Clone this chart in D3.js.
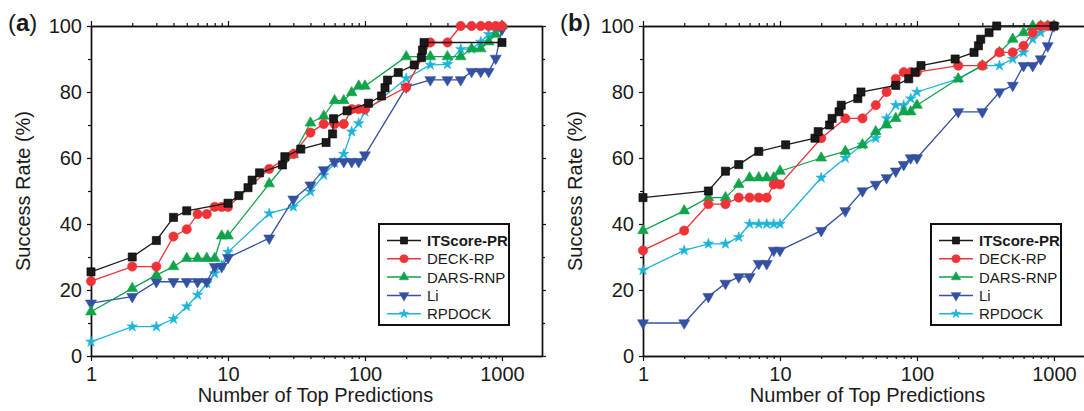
<!DOCTYPE html>
<html><head><meta charset="utf-8">
<script src="https://cdn.jsdelivr.net/npm/d3@7"></script>
<style>body{margin:0;background:#fff} svg{display:block}</style>
</head><body>
<svg id="chart" width="1084" height="411"></svg>
<script>
// ---------- data ----------
const seriesNames = ["ITScore-PR", "DECK-RP", "DARS-RNP", "Li", "RPDOCK"];
const seriesColors = ["#1a1a1a", "#ee3238", "#10a44a", "#3450a2", "#1cb4d8"];
const xTickValues = [1, 10, 100, 1000];
const xMinorTicks = [2,3,4,5,6,7,8,9,20,30,40,50,60,70,80,90,200,300,400,500,600,700,800,900];
const yTickValues = [0, 20, 40, 60, 80, 100];
const yMinorTicks = [10, 30, 50, 70, 90];
const panelLabels = ["a", "b"];
const xTitle = "Number of Top Predictions";
const yTitle = "Success Rate (%)";

// common ranks used by most methods
const ranks = [1,2,3,4,5,6,7,8,9,10,20,30,40,50,60,70,80,90,100,200,300,400,500,600,700,800,900,1000];

// Panel (a)
const aITScoreX = [1,2,3,4,5,10,12,14,15,17,25,26,34,52,58,59,74,106,132,140,146,175,229,258,263,270,1000];
const aITScoreY = [25.5,30,35,42,44,46.3,48.6,51,53.3,55.5,57.9,60.4,62.7,64.7,67.3,71.9,74.3,76.6,78.8,81.3,83.6,85.9,88.2,90.4,92.7,95,95];
const aDeckY  = [22.7,27.1,27.1,36.2,38.4,43,43,45.2,45.2,45.2,56.7,61.2,67.7,70.3,70.3,70.3,74.8,74.8,74.8,81.4,95,95,100,100,100,100,100,100];
const aDarsY  = [13.4,20.5,24.5,27.1,29.6,29.6,29.6,29.6,36.4,36.4,52.2,61,70.6,72.7,77.4,77.4,79.8,81.8,81.8,90.7,90.7,90.7,90.7,93.1,93.1,95.2,97.5,100];
const aLiY    = [16,18,22.5,22.5,22.5,22.5,22.5,27.1,27.1,29.8,35.7,47.5,51.8,56.4,58.9,58.9,58.9,58.9,60.9,81.5,83.7,83.7,83.7,86.2,86.2,86.2,90.2,99];
const aRpdockY= [4.3,8.9,8.9,11.2,15,18.5,22,25,27.5,31.5,43.2,45.2,49.8,54.8,58.5,61.2,68,70.5,74,84.1,88.2,88.4,93,93,95.2,97.5,98.5,100];

// Panel (b)
const bITScoreX = [1,3,4,5,7,11,18,19,23,24,27,28,37,39,70,87,97,107,190,261,281,292,336,382,1000];
const bITScoreY = [48,50,56,58,62,64,66,68,70,72,74,76,78,80,82,84,86,88,90,92,94,96,98,100,100];
const bDeckY  = [32,38,46,46,48,48,48,48,52,52,66,72,72,76,80,84,86,86,86,88,88,92,92,94,98,100,100,100];
const bDarsY  = [38,44,48,48,52,54,54,54,54,56,60,62,64,68,70,72,74,74,76,84,88,92,96,98,100,100,100,100];
const bLiY    = [10,10,18,22,24,24,28,28,32,32,38,44,50,52,54,56,58,60,60,74,74,80,82,88,88,90,94,100];
const bRpdockY= [26,32,34,34,36,40,40,40,40,40,54,60,64,66,72,76,76,78,80,84,88,88,90,92,96,98,100,100];

// ---------- drawing ----------
const FONT = "'Liberation Sans', Arial, Helvetica, sans-serif";
const svg = d3.select("#chart");

const symTypes = [d3.symbolSquare, d3.symbolCircle, d3.symbolTriangle, d3.symbolTriangle, d3.symbolStar];
const symSizes = [66, 68, 50, 52, 34];
const symRot = [0, 0, 0, 180, 0];

function zip(xs, ys) { return xs.map((v, i) => [v, ys[i]]); }

function drawPanel(ox, label, seriesData) {
  const W = 451;
  const x = d3.scaleLog().domain([1, 1960]).range([ox, ox + W]);
  const y = d3.scaleLinear().domain([0, 100]).range([356, 26]);
  const g = svg.append("g");

  const styleAxis = sel => {
    sel.selectAll("path.domain").attr("stroke", "#111").attr("stroke-width", 1.4);
    sel.selectAll(".tick line").attr("stroke", "#111").attr("stroke-width", 1.2);
    sel.selectAll("text").attr("font-size", 20).attr("font-family", FONT).attr("fill", "#1a1a1a");
  };

  // bottom axis
  g.append("g").attr("transform", "translate(0,356)")
    .call(d3.axisBottom(x).tickValues(xTickValues).tickFormat(d3.format("d")).tickSize(5).tickSizeOuter(0).tickPadding(6))
    .call(styleAxis);
  g.append("g").attr("transform", "translate(0,356)")
    .call(d3.axisBottom(x).tickValues(xMinorTicks).tickFormat("").tickSize(3).tickSizeOuter(0))
    .call(styleAxis);
  // top axis
  g.append("g").attr("transform", "translate(0,26)")
    .call(d3.axisTop(x).tickValues(xTickValues).tickFormat("").tickSize(5).tickSizeOuter(0))
    .call(styleAxis);
  g.append("g").attr("transform", "translate(0,26)")
    .call(d3.axisTop(x).tickValues(xMinorTicks).tickFormat("").tickSize(3).tickSizeOuter(0))
    .call(styleAxis);
  // left axis
  g.append("g").attr("transform", `translate(${ox},0)`)
    .call(d3.axisLeft(y).tickValues(yTickValues).tickSize(4).tickSizeOuter(0).tickPadding(5))
    .call(styleAxis);
  g.append("g").attr("transform", `translate(${ox},0)`)
    .call(d3.axisLeft(y).tickValues(yMinorTicks).tickFormat("").tickSize(3).tickSizeOuter(0))
    .call(styleAxis);
  // right axis
  g.append("g").attr("transform", `translate(${ox + W},0)`)
    .call(d3.axisRight(y).tickValues(yTickValues).tickFormat("").tickSize(4).tickSizeOuter(0))
    .call(styleAxis);
  g.append("g").attr("transform", `translate(${ox + W},0)`)
    .call(d3.axisRight(y).tickValues(yMinorTicks).tickFormat("").tickSize(3).tickSizeOuter(0))
    .call(styleAxis);

  // titles
  g.append("text").attr("x", ox + W / 2 - 1).attr("y", 402).attr("text-anchor", "middle")
    .attr("font-size", 20).attr("font-family", FONT).attr("fill", "#1a1a1a").text(xTitle);
  g.append("text").attr("transform", `translate(${ox - 61},191) rotate(-90)`).attr("text-anchor", "middle")
    .attr("font-size", 20).attr("font-family", FONT).attr("fill", "#1a1a1a").text(yTitle);
  const lab = g.append("text").attr("x", ox - 83).attr("y", 31)
    .attr("font-size", 24).attr("font-family", FONT).attr("fill", "#1a1a1a");
  lab.append("tspan").text("(");
  lab.append("tspan").attr("font-weight", "bold").text(label);
  lab.append("tspan").text(")");

  // series (drawn in reverse so ITScore-PR is on top)
  const line = d3.line().x(d => x(d[0])).y(d => y(d[1]));
  for (let i = seriesData.length - 1; i >= 0; i--) {
    const pts = seriesData[i];
    const c = seriesColors[i];
    g.append("path").datum(pts).attr("d", line).attr("fill", "none")
      .attr("stroke", c).attr("stroke-width", 1.3);
    g.append("g").selectAll("path").data(pts).join("path")
      .attr("d", d3.symbol().type(symTypes[i]).size(symSizes[i]))
      .attr("transform", d => `translate(${x(d[0])},${y(d[1])}) rotate(${symRot[i]})`)
      .attr("fill", c).attr("stroke", i === 0 ? "#000" : c).attr("stroke-width", 0.6);
  }

  // legend
  const lx = ox + 288, ly = 224;
  const lg = g.append("g");
  lg.append("rect").attr("x", lx).attr("y", ly).attr("width", 130).attr("height", 101)
    .attr("fill", "#fff").attr("stroke", "#111").attr("stroke-width", 2);
  seriesNames.forEach((name, i) => {
    const ry = 240.5 + i * 18.3;
    lg.append("line").attr("x1", lx + 8).attr("x2", lx + 42).attr("y1", ry).attr("y2", ry)
      .attr("stroke", seriesColors[i]).attr("stroke-width", 1.5);
    lg.append("path").attr("d", d3.symbol().type(symTypes[i]).size(symSizes[i] * 0.75))
      .attr("transform", `translate(${lx + 25},${ry}) rotate(${symRot[i]})`)
      .attr("fill", seriesColors[i]).attr("stroke", i === 0 ? "#000" : seriesColors[i]).attr("stroke-width", 0.6);
    lg.append("text").attr("x", lx + 48).attr("y", ry + 5.5)
      .attr("font-size", 15).attr("font-family", FONT).attr("fill", "#1a1a1a")
      .attr("font-weight", i === 0 ? "bold" : "normal").text(name);
  });
}

drawPanel(91, panelLabels[0], [
  zip(aITScoreX, aITScoreY), zip(ranks, aDeckY), zip(ranks, aDarsY), zip(ranks, aLiY), zip(ranks, aRpdockY)
]);
drawPanel(643, panelLabels[1], [
  zip(bITScoreX, bITScoreY), zip(ranks, bDeckY), zip(ranks, bDarsY), zip(ranks, bLiY), zip(ranks, bRpdockY)
]);
</script>
</body></html>
